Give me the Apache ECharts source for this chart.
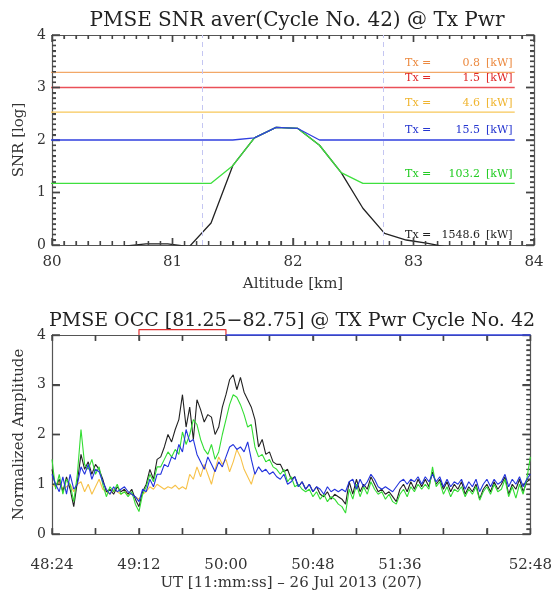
<!DOCTYPE html>
<html>
<head>
<meta charset="utf-8">
<script src="https://cdn.jsdelivr.net/npm/echarts@6/dist/echarts.min.js"></script>
<style>
  html, body { margin: 0; padding: 0; background: #fff; }
  #main { width: 555px; height: 592px; }
</style>
</head>
<body>
<div id="main"></div>
<script>
// ---- top panel: SNR profile per Tx power ----
var altitudeKm = [79.88, 80.06, 80.24, 80.42, 80.6, 80.78, 80.96, 81.14, 81.32, 81.5, 81.68, 81.86,
                  82.04, 82.22, 82.4, 82.58, 82.76, 82.94, 83.12, 83.3, 83.48, 83.66, 83.84];
var snr_0_8 = [3.29, 3.29, 3.29, 3.29, 3.29, 3.29, 3.29, 3.29, 3.29, 3.29, 3.29, 3.29,
               3.29, 3.29, 3.29, 3.29, 3.29, 3.29, 3.29, 3.29, 3.29, 3.29, 3.29];
var snr_1_5 = [3.0, 3.0, 3.0, 3.0, 3.0, 3.0, 3.0, 3.0, 3.0, 3.0, 3.0, 3.0,
               3.0, 3.0, 3.0, 3.0, 3.0, 3.0, 3.0, 3.0, 3.0, 3.0, 3.0];
var snr_4_6 = [2.53, 2.53, 2.53, 2.53, 2.53, 2.53, 2.53, 2.53, 2.53, 2.53, 2.53, 2.53,
               2.53, 2.53, 2.53, 2.53, 2.53, 2.53, 2.53, 2.53, 2.53, 2.53, 2.53];
var snr_15_5 = [2.0, 2.0, 2.0, 2.0, 2.0, 2.0, 2.0, 2.0, 2.0, 2.0, 2.04, 2.24,
                2.22, 2.0, 2.0, 2.0, 2.0, 2.0, 2.0, 2.0, 2.0, 2.0, 2.0];
var snr_103_2 = [1.175, 1.175, 1.175, 1.175, 1.175, 1.175, 1.175, 1.175, 1.175, 1.51, 2.04, 2.24,
                 2.22, 1.90, 1.38, 1.175, 1.175, 1.175, 1.175, 1.175, 1.175, 1.175, 1.175];
var snr_1548_6 = [-0.5, -0.4, -0.3, -0.2, -0.02, 0.02, 0.02, -0.03, 0.42, 1.51, 2.04, 2.24,
                  2.22, 1.90, 1.38, 0.70, 0.22, 0.095, 0.03, -0.05, -0.1, -0.15, -0.2];
var txPowerKw = [0.8, 1.5, 4.6, 15.5, 103.2, 1548.6];
var occRangeKm = [81.25, 82.75];

// ---- bottom panel: normalized amplitude vs time (seconds after 11:48:24) ----
var timeSec = [0, 2, 4, 6, 8, 10, 12, 14, 16, 18, 20, 22, 24, 26, 28, 30, 32, 34, 36, 38, 40, 42, 44, 46,
  48, 50, 52, 54, 56, 58, 60, 62, 64, 66, 68, 70, 72, 74, 76, 78, 80, 82, 84, 86, 88, 90, 92, 94,
  96, 98, 100, 102, 104, 106, 108, 110, 112, 114, 116, 118, 120, 122, 124, 126, 128, 130, 132, 134, 136, 138, 140, 142,
  144, 146, 148, 150, 152, 154, 156, 158, 160, 162, 164, 166, 168, 170, 172, 174, 176, 178, 180, 182, 184, 186, 188, 190,
  192, 194, 196, 198, 200, 202, 204, 206, 208, 210, 212, 214, 216, 218, 220, 222, 224, 226, 228, 230, 232, 234, 236, 238,
  240, 242, 244, 246, 248, 250, 252, 254, 256, 258, 260, 262, 264];
var amp_1548_6 = [1.3, 0.95, 1.1, 0.85, 1.15, 0.9, 0.55, 1.05,
  1.6, 1.3, 1.45, 1.2, 1.4, 1.3,
  1.1, 0.85, 0.9, 0.8, 0.95, 0.85, 0.9, 0.8, 0.9, 0.7,
  0.55, 0.85, 1.0, 1.3, 1.1, 1.5,
  1.55, 1.75, 2.0, 1.85, 2.1, 2.3, 2.8, 2.15, 2.55, 1.9, 2.7, 2.5, 2.25, 2.4, 2.35, 2.0, 2.15, 2.55, 2.8, 3.1,
  3.2, 2.9, 3.15, 2.85, 2.7, 2.55, 2.3, 1.75, 1.9, 1.6, 1.65, 1.45, 1.4,
  1.4, 1.25, 1.3, 1.1, 1.15, 0.95, 1.05, 0.9, 1.0, 0.85, 0.95, 0.8, 0.75, 0.85, 0.7, 0.8, 0.75, 0.7,
  0.6, 1.05, 0.8, 1.1, 0.85, 1.0, 0.9, 1.15, 1.0, 0.85, 0.9, 0.8, 0.85, 0.75, 0.65, 0.9, 1.0, 0.85, 1.05, 0.9, 1.1, 0.95,
  1.1, 0.95, 1.25, 1.0, 1.1, 0.9, 1.05, 0.85, 1.0, 0.9, 1.05, 0.8, 0.95, 0.85, 1.0, 0.7, 0.9, 1.0, 0.85, 1.05,
  0.9, 1.0, 1.15, 0.8, 1.0, 0.9, 1.1, 0.85, 1.05, 1.1];
var amp_103_2 = [1.5, 0.9, 1.2, 0.8, 1.1, 1.0, 0.65, 1.2,
  2.1, 1.4, 1.3, 1.5, 1.2, 1.35,
  1.0, 0.75, 0.95, 0.85, 1.0, 0.8, 0.85, 0.75, 0.85, 0.6,
  0.45, 0.8, 0.95, 1.2, 1.05, 1.35,
  1.35, 1.5, 1.65, 1.55, 1.7, 1.6, 2.05, 1.8, 2.0, 2.3, 2.2, 1.9, 1.7, 1.6, 1.8, 1.5, 1.65, 2.0, 2.3, 2.6,
  2.8, 2.75, 2.6, 2.4, 2.15, 2.2, 1.75, 1.55, 1.6, 1.45, 1.5, 1.35, 1.3,
  1.2, 1.3, 1.05, 1.15, 0.95, 1.0, 0.9, 0.85, 0.9, 0.75, 0.85, 0.7, 0.8, 0.65, 0.75, 0.7, 0.6, 0.55,
  0.42, 0.9, 0.7, 1.0, 0.75, 0.95, 0.8, 1.05, 0.9, 0.8, 0.85, 0.7, 0.8, 0.65, 0.6, 0.8, 0.9, 0.75, 0.95, 0.85, 1.0, 0.9,
  1.0, 0.9, 1.35, 0.95, 1.05, 0.8, 0.95, 0.75, 0.9, 0.85, 0.95, 0.75, 0.9, 0.8, 0.95, 0.68, 0.85, 0.95, 0.8, 1.0,
  0.85, 0.9, 1.1, 0.75, 0.95, 0.72, 1.0, 0.8, 1.1, 1.55];
var amp_15_5 = [1.2, 1.0, 0.85, 1.15, 0.8, 1.2, 0.9, 1.0,
  1.35, 1.2, 1.4, 1.1, 1.3, 1.25,
  1.05, 0.9, 0.8, 0.95, 0.85, 0.9, 0.95, 0.85, 0.8, 0.75,
  0.65, 0.9, 0.85, 1.1, 0.95, 1.2,
  1.2, 1.4, 1.35, 1.55, 1.5, 1.8, 1.65, 2.1, 1.85, 1.9, 1.6, 1.45, 1.3, 1.55, 1.4, 1.25, 1.45, 1.35, 1.55, 1.75,
  1.8, 1.7, 1.75, 1.65, 1.85, 1.5, 1.2, 1.35, 1.25, 1.3, 1.2, 1.25, 1.15,
  1.1, 1.2, 1.0, 1.05, 1.15, 0.95, 1.05, 0.9, 1.0, 0.85, 0.95, 0.9, 0.8, 0.95, 0.85, 0.9, 0.85, 0.9,
  0.85, 1.05, 1.1, 0.9, 1.1, 0.95, 1.05, 1.2, 1.1, 0.95, 0.9, 0.95, 0.9, 0.85, 0.95, 1.05, 1.1, 1.0, 1.1, 1.05, 1.15, 1.0,
  1.15, 1.05, 1.2, 1.05, 1.15, 0.95, 1.1, 0.95, 1.05, 1.0, 1.1, 0.9, 1.05, 0.95, 1.1, 0.85, 1.0, 1.1, 0.95, 1.1,
  1.0, 1.05, 1.2, 0.95, 1.1, 1.0, 1.15, 0.95, 1.1, 1.2];
// 4.6 kW only covers the first 112 s
var amp_4_6 = [1.0, 0.95, 1.05, 0.9, 0.95, 1.0, 0.85, 1.0, 1.05, 0.85, 1.0, 0.8, 0.95, 1.1,
  0.9, 0.85, 0.8, 0.9, 0.85, 0.8, 0.85, 0.8, 0.8, 0.75, 0.7, 0.8, 0.85, 0.95, 0.9,
  1.0, 0.95, 0.9, 0.95, 0.92, 0.98, 0.9, 0.95, 0.9, 1.2, 1.1, 1.35, 1.15, 1.4, 1.2, 1.0, 1.3, 1.55, 1.4, 1.5,
  1.25, 1.45, 1.7, 1.55, 1.3, 1.15, 1.0, 1.25];
var tickSeconds = [0, 48, 96, 144, 192, 264];
var tickLabels = ['48:24', '49:12', '50:00', '50:48', '51:36', '52:48'];
var redCycleSec = [48, 96];
var blueCycleSec = [96, 264];

var chart = echarts.init(document.getElementById('main'));

var FONT = '"DejaVu Serif", "Liberation Serif", serif';
var AXIS_COLOR = '#555';
var TEXT_COLOR = '#333';
var LABEL_FONT_SIZE = 11;
var GRID_W = 482, GRID_H = 210;

function toPairs(xs, ys) {
  return ys.map(function (y, i) { return [xs[i], y]; });
}

// measure text so the power values can be right aligned
var measureCtx = document.createElement('canvas').getContext('2d');
measureCtx.font = LABEL_FONT_SIZE + 'px ' + FONT;
function textWidth(s) { return measureCtx.measureText(s).width; }

// IDL look: frame on all four sides, ticks pointing inwards
function ticks(len) {
  return { show: true, inside: true, length: len, lineStyle: { color: AXIS_COLOR, width: 1.4 } };
}
var minor10 = { show: true, splitNumber: 10, length: 4, lineStyle: { color: AXIS_COLOR, width: 1.2 } };

function frameAxis(extra) {
  var base = {
    type: 'value',
    axisLine: { show: true, onZero: false, lineStyle: { color: AXIS_COLOR, width: 1.2 } },
    axisTick: ticks(8),
    splitLine: { show: false },
    axisLabel: { color: TEXT_COLOR, fontFamily: FONT, fontSize: 15 },
    nameTextStyle: { color: TEXT_COLOR, fontFamily: FONT, fontSize: 15 }
  };
  return Object.assign(base, extra);
}

var profileSeries = [
  { name: '1548.6', data: snr_1548_6, line: '#222', text: '#222', z: 3 },
  { name: '103.2', data: snr_103_2, line: '#3ee03e', text: '#22cc22', z: 4 },
  { name: '15.5', data: snr_15_5, line: '#3040e0', text: '#2535d0', z: 5 },
  { name: '4.6', data: snr_4_6, line: '#f7c85a', text: '#f0b530', z: 3 },
  { name: '1.5', data: snr_1_5, line: '#ea5058', text: '#e02828', z: 3 },
  { name: '0.8', data: snr_0_8, line: '#f2a868', text: '#ec8a40', z: 3 }
];

var labelStartKm = 82.93;   // left edge of the "Tx = ... [kW]" labels

var series = profileSeries.map(function (s, k) {
  var level = s.name === '1548.6' ? 0 : s.data[s.data.length - 1];
  var power = txPowerKw[txPowerKw.length - 1 - k].toFixed(1);
  var rich = {
    a: { width: 75 - textWidth(power), color: s.text, fontFamily: FONT, fontSize: LABEL_FONT_SIZE },
    b: { color: s.text, fontFamily: FONT, fontSize: LABEL_FONT_SIZE },
    c: { color: s.text, fontFamily: FONT, fontSize: LABEL_FONT_SIZE, padding: [0, 0, 0, 6] }
  };
  var item = {
    type: 'line',
    xAxisIndex: 0,
    yAxisIndex: 0,
    data: toPairs(altitudeKm, s.data),
    symbol: 'none',
    z: s.z,
    lineStyle: { color: s.line, width: 1.3 },
    markPoint: {
      symbol: 'circle',
      symbolSize: 0,
      silent: true,
      data: [{
        coord: [labelStartKm, level],
        label: {
          show: true,
          position: [0, -15],
          formatter: '{a|Tx =}{b|' + power + '}{c|[kW]}',
          rich: rich
        }
      }]
    }
  };
  if (k === 0) {
    item.markLine = {
      symbol: 'none',
      silent: true,
      label: { show: false },
      lineStyle: { color: '#c4c6f2', type: [5, 4], width: 1 },
      data: occRangeKm.map(function (v) { return { xAxis: v }; })
    };
  }
  return item;
});

var ampSeries = [
  { data: toPairs(timeSec, amp_4_6), color: '#f7c24a', z: 2 },
  { data: toPairs(timeSec, amp_1548_6), color: '#222', z: 3 },
  { data: toPairs(timeSec, amp_103_2), color: '#33dd33', z: 4 },
  { data: toPairs(timeSec, amp_15_5), color: '#2233dd', z: 5 }
];
ampSeries.forEach(function (s) {
  series.push({
    type: 'line', xAxisIndex: 2, yAxisIndex: 2, data: s.data, symbol: 'none', z: s.z,
    lineStyle: { color: s.color, width: 1.1 }
  });
});

// Tx cycle markers along the top of the lower panel
var bracketTop = 4.11;
series.push({
  type: 'line', xAxisIndex: 2, yAxisIndex: 2, symbol: 'none', clip: false, z: 6,
  lineStyle: { color: '#e03030', width: 1.2 },
  data: [[redCycleSec[0], 4], [redCycleSec[0], bracketTop], [redCycleSec[1], bracketTop], [redCycleSec[1], 4]]
});
series.push({
  type: 'line', xAxisIndex: 2, yAxisIndex: 2, symbol: 'none', clip: false, z: 6,
  lineStyle: { color: '#3040e0', width: 1.5 },
  data: [[blueCycleSec[0], 4], [blueCycleSec[1], 4]]
});

// backup tick marks as short broken segments, so the inward comb shows in any case
function tickSegments(xr, yr, xTicks, yTicks) {
  var pxX = GRID_W / (xr[1] - xr[0]), pxY = GRID_H / (yr[1] - yr[0]);
  var out = [];
  xTicks.forEach(function (t) {
    var dy = t[1] / pxY;
    out.push([t[0], yr[0]], [t[0], yr[0] + dy], [t[0], '-']);
    out.push([t[0], yr[1]], [t[0], yr[1] - dy], [t[0], '-']);
  });
  yTicks.forEach(function (t) {
    var dx = t[1] / pxX;
    if (!t[2]) out.push([xr[0], t[0]], [xr[0] + dx, t[0]], ['-', t[0]]);
    out.push([xr[1], t[0]], [xr[1] - dx, t[0]], ['-', t[0]]);
  });
  return out;
}
var topXTicks = [], topYTicks = [], botXTicks = [], botYTicks = [];
for (var i = 0; i <= 40; i++) {
  topXTicks.push([80 + i / 10, i % 10 === 0 ? 7 : 4]);
  topYTicks.push([i / 10, i % 10 === 0 ? 8 : 4]);
  botYTicks.push([i / 10, i % 10 === 0 ? 8 : 4, i % 10 !== 0]);
}
for (var j = 0; j <= 11; j++) botXTicks.push([j * 24, 6]);

series.push({ type: 'line', xAxisIndex: 0, yAxisIndex: 0, symbol: 'none', clip: false, silent: true,
  connectNulls: false, lineStyle: { color: '#444', width: 1.4 },
  data: tickSegments([80, 84], [0, 4], topXTicks, topYTicks) });
series.push({ type: 'line', xAxisIndex: 2, yAxisIndex: 2, symbol: 'none', clip: false, silent: true,
  connectNulls: false, lineStyle: { color: '#444', width: 1.4 },
  data: tickSegments([0, 264], [0, 4], botXTicks, botYTicks) });

var option = {
  backgroundColor: '#fff',
  animation: false,
  graphic: [
    { type: 'text', x: 297, y: 21, style: { text: 'PMSE SNR aver(Cycle No. 42) @ Tx Pwr', font: '20px ' + FONT, fill: '#222', align: 'center', verticalAlign: 'middle' } },
    { type: 'text', x: 292, y: 321, style: { text: 'PMSE OCC [' + occRangeKm[0] + '\u2212' + occRangeKm[1] + '] @ TX Pwr Cycle No. 42', font: '19px ' + FONT, fill: '#222', align: 'center', verticalAlign: 'middle' } }
  ],
  grid: [
    { left: 52, top: 35, width: GRID_W, height: GRID_H },
    { left: 52, top: 335, width: GRID_W, height: GRID_H }
  ],
  xAxis: [
    frameAxis({ gridIndex: 0, position: 'bottom', min: 80, max: 84, interval: 1,
      axisTick: ticks(7), minorTick: minor10,
      axisLabel: { color: TEXT_COLOR, fontFamily: FONT, fontSize: 15, margin: 10 },
      name: 'Altitude [km]', nameLocation: 'middle', nameGap: 32 }),
    frameAxis({ gridIndex: 0, position: 'top', min: 80, max: 84, interval: 1,
      axisTick: ticks(7), minorTick: minor10, axisLabel: { show: false } }),
    frameAxis({ gridIndex: 1, position: 'bottom', min: 0, max: 264, interval: 24,
      axisTick: ticks(6),
      axisLabel: { color: TEXT_COLOR, fontFamily: FONT, fontSize: 15, margin: 24, showMaxLabel: true,
        formatter: function (v) { var i = tickSeconds.indexOf(v); return i < 0 ? '' : tickLabels[i]; } },
      name: 'UT [11:mm:ss] \u2013 26 Jul 2013 (207)', nameLocation: 'middle', nameGap: 42 }),
    frameAxis({ gridIndex: 1, position: 'top', min: 0, max: 264, interval: 24,
      axisTick: ticks(6), axisLabel: { show: false } })
  ],
  yAxis: [
    frameAxis({ gridIndex: 0, position: 'left', min: 0, max: 4, interval: 1, minorTick: minor10,
      axisLabel: { color: TEXT_COLOR, fontFamily: FONT, fontSize: 14, margin: 6 },
      name: 'SNR [log]', nameLocation: 'middle', nameGap: 21 }),
    frameAxis({ gridIndex: 0, position: 'right', min: 0, max: 4, interval: 1, minorTick: minor10,
      axisLabel: { show: false } }),
    frameAxis({ gridIndex: 1, position: 'left', min: 0, max: 4, interval: 1,
      axisLabel: { color: TEXT_COLOR, fontFamily: FONT, fontSize: 14, margin: 6 },
      name: 'Normalized Amplitude', nameLocation: 'middle', nameGap: 22 }),
    frameAxis({ gridIndex: 1, position: 'right', min: 0, max: 4, interval: 1, minorTick: minor10,
      axisLabel: { show: false } })
  ],
  series: series
};

chart.setOption(option);
</script>
</body>
</html>
